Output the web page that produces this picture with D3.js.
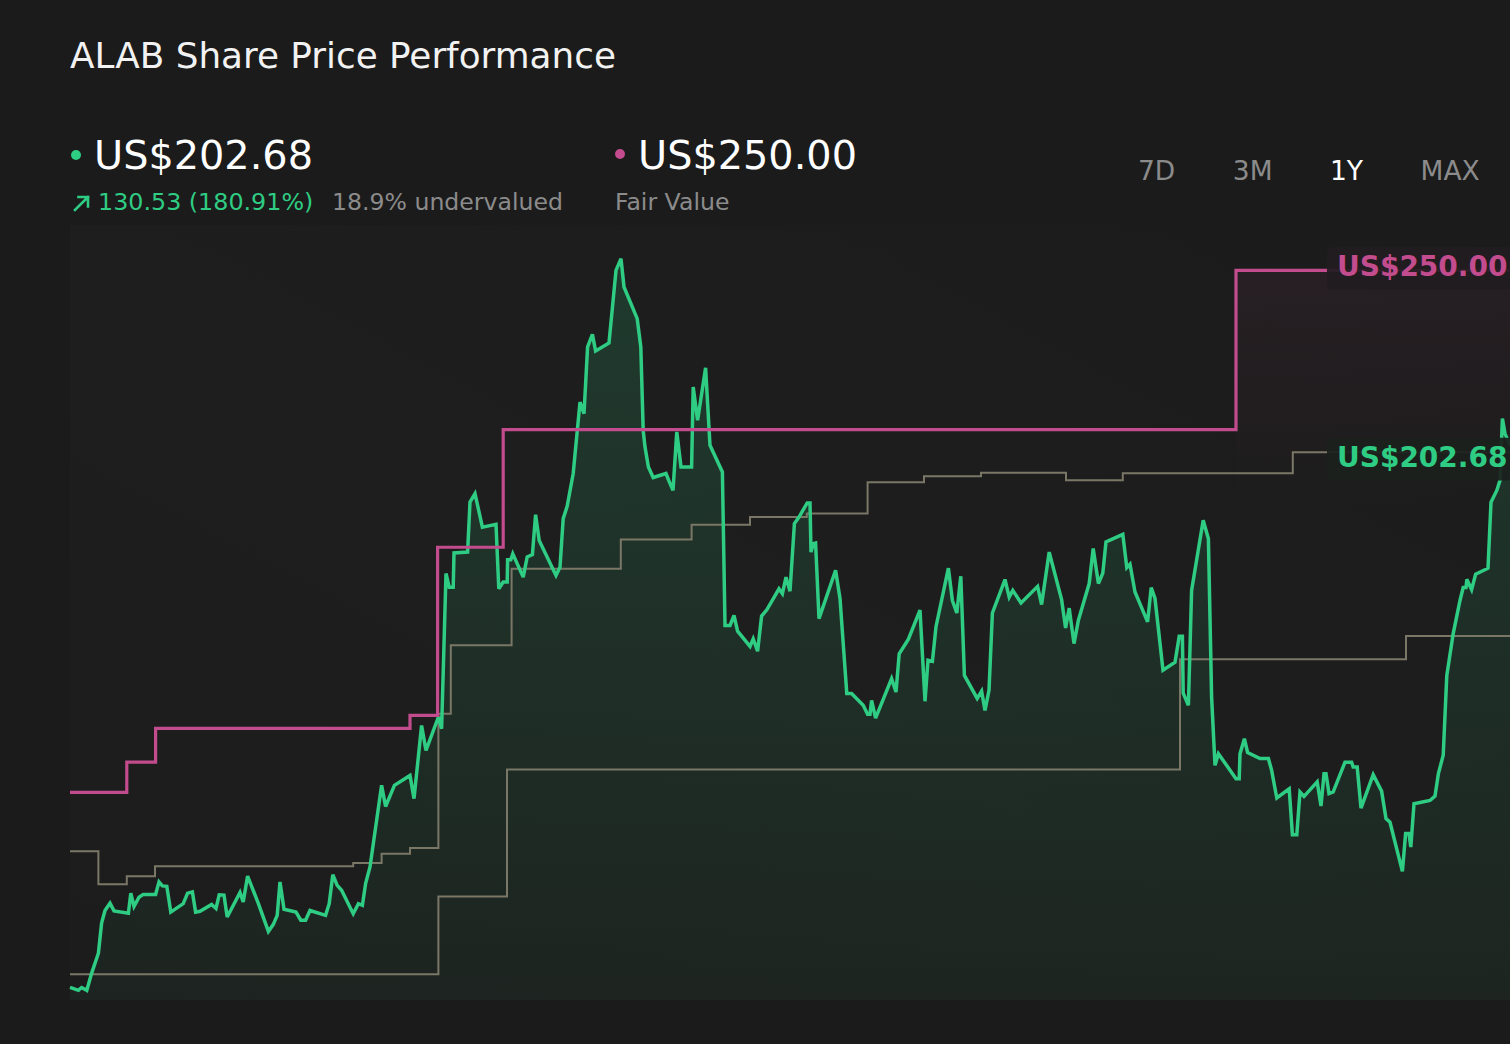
<!DOCTYPE html>
<html><head><meta charset="utf-8">
<script src="https://cdn.jsdelivr.net/npm/d3@7/dist/d3.min.js"></script>
<style>html,body{margin:0;padding:0;background:#1b1b1b;overflow:hidden}svg{display:block}</style>
</head><body>
<svg id="chart" width="1510" height="1044"></svg>
<script>
// ---- header data ----
const titleText = "ALAB Share Price Performance";
const lastPrice = "US$202.68";
const changeText = "130.53 (180.91%)";
const valuationText = "18.9% undervalued";
const fairValueText = "US$250.00";
const fairValueCaption = "Fair Value";
const ranges = ["7D", "3M", "1Y", "MAX"];
const activeRange = "1Y";
const lastPriceValue = 202.68;
const fairValueValue = 250.00;

// ---- price series (day offset within the 1Y window, price in US$) ----
const priceDays = [
  0,2.1,2.9,4.2,5.4,7.1,7.9,8.75,10,11,
  14.6,15.2,16,17.25,18.3,21.4,22.25,23.1,24.2,25.2,
  28.3,29.4,30.6,31.4,32.5,35.4,36.5,37.3,38.5,39.3,
  42.5,43.3,44.4,47.1,49.6,50.8,51.8,52.5,53.5,56.5,
  57.7,58.9,60,63.9,64.8,65.7,66.8,67.9,70.8,72.1,
  73.1,73.9,75,77.9,78.9,81.1,85,86,87.9,89,
  92.1,92.9,94,94.8,95.8,96,99.4,100,101.25,103.1,
  106.5,107.2,108.3,109.3,109.4,110.2,110.7,113.3,114.3,115.6,
  116.4,117.3,121.5,122.5,123.3,124.3,125.8,127.5,128.5,129.4,
  130.6,131.4,134.75,136.5,137.75,138.5,141.8,142.7,143.3,143.75,
  144.6,145.8,149,149.6,150.75,151.7,152.75,155.4,155.8,156.9,
  158.9,160,163.1,163.75,165,166,166.9,170,170.8,171.9,
  172.9,174.2,177.25,178.1,179,180,181.1,182.25,184.3,185,
  185.25,185.8,186.4,187.25,191.4,192.5,194.2,195.4,198.3,199.4,
  200,200.4,201.4,205.4,206.5,207.3,209.6,212.5,213.75,214.5,
  215.6,216.5,219.6,220.6,221.7,222.7,223.6,226.8,227.9,228.75,
  229.75,230.6,233.75,234.8,235.7,237.75,241.9,242.9,244.8,247.9,
  248.9,249.8,251,252.1,254.8,255.8,257.1,258.2,259,263.2,
  264.2,265,266.25,269.4,270.3,271.25,273.25,276.25,277.3,278.1,
  278.3,279.6,280.4,283.3,284.6,285.4,286.25,287.1,291.5,292.3,
  292.5,293.6,294.4,297.5,299.6,300.4,301.7,304.8,305.6,306.7,
  307.5,308.5,311.8,312.75,313.5,314,314.75,315.8,318.75,320.4,
  320.8,321.8,322.75,325.8,327.9,329,330,333.1,333.9,334.75,
  335.2,336,340,341.25,342.1,343.3,344.2,345.8,347.5,348.3,
  349,349.2,350.4,351.4,354.5,355.25,356.7,357.5,358.1,358.75,
  360
];
const priceValues = [
  72.15,71.4,72.1,71.4,75.6,80.6,88.1,91.2,93.0,91.1,
  90.5,95.5,92.2,94.5,95.2,95.2,98.3,97.3,97.2,90.8,
  92.9,95.5,95.8,90.8,91.0,92.7,91.7,95.1,95.0,89.6,
  95.7,93.3,99.75,92.9,86.0,87.7,90.0,98.3,91.5,90.8,
  88.8,88.8,91.2,90.0,92.9,100.1,97.45,96.2,90.4,92.9,
  92.5,97.9,102.0,122.25,117.0,122.25,124.7,118.95,137.1,130.9,
  139.2,136.3,174.8,171.4,171.4,179.9,180.1,192.5,194.6,186.3,
  187.0,171.0,172.7,172.7,178.2,178.2,179.7,173.9,178.9,179.5,
  189.4,183.0,174.3,176.4,188.4,191.5,199.6,217.3,214.45,231.0,
  234.1,230.0,232.0,250.0,252.9,245.85,238.0,231.0,210.3,206.2,
  201.2,198.6,199.6,198.1,195.4,209.9,201.2,201.2,221.05,212.8,
  225.8,206.6,199.97,161.9,161.9,164.4,160.5,156.7,158.6,155.5,
  164.25,165.8,171.0,169.8,173.9,170.4,187.2,188.8,192.3,192.3,
  180.1,182.2,182.35,163.6,175.6,168.6,145.0,145.0,142.1,139.9,
  139.9,143.3,138.9,148.7,145.4,154.9,158.5,165.7,143.1,153.3,
  153.0,161.6,176.1,168.1,165.0,174.1,149.5,143.8,145.6,140.85,
  145.8,165.0,173.3,168.95,170.6,167.5,171.6,167.1,180.1,168.3,
  161.3,166.2,157.4,163.2,172.3,181.0,172.3,174.9,182.6,184.5,
  176.25,177.1,170.2,162.8,171.3,168.6,150.8,152.8,159.2,159.2,
  145.1,142.1,170.6,188.0,183.4,144.2,127.2,130.1,123.9,123.9,
  130.1,133.8,130.4,128.9,128.9,126.0,119.1,121.4,110.0,110.0,
  120.6,119.5,123.1,117.1,125.15,125.15,120.2,120.6,128.0,128.0,
  126.8,126.8,116.6,124.9,120.8,114.0,113.1,100.9,110.3,110.3,
  106.95,117.7,118.5,119.6,125.15,129.7,149.5,159.9,168.1,171.3,
  171.3,173.35,170.8,174.6,176.1,192.5,195.4,197.9,213.2,209.5,
  206.6
];

// ---- fair value (step) ----
const fairDays   = [0, 14.2, 21.4, 85, 91.9, 108.3, 291.5, 360];
const fairValues = [120.5, 128.0, 136.4, 139.6, 181.3, 210.5, 250.0, 250.0];

// ---- analyst target high / low (steps) ----
const highDays   = [0, 7.1, 14.2, 21.25, 70.8, 77.9, 85, 92.1, 95.2, 110.4, 137.7, 155.4, 170, 184.2, 199.4, 213.5, 227.75, 249, 263.2, 305.7, 360];
const highValues = [105.9, 97.7, 99.7, 102.2, 103.0, 105.3, 106.7, 140.0, 157.0, 176.0, 183.2, 186.9, 188.8, 189.65, 197.4, 198.9, 199.8, 197.9, 199.65, 204.9, 204.9];
const lowDays    = [0, 92.1, 109.25, 277.5, 334, 360];
const lowValues  = [75.4, 94.7, 126.2, 153.5, 159.3, 159.3];

// ---- colours ----
const GREEN = "#2fcc83", PINK = "#c24c8d", GREY = "#7b7767", BG = "#1b1b1b";

const svg = d3.select("#chart");
const W = 1510, H = 1044;
svg.append("rect").attr("width", W).attr("height", H).attr("fill", BG);

const x = d3.scaleLinear().domain([0, 360]).range([70, 1510]);
const y = d3.scaleLinear().domain([69, 260]).range([1000, 230]);

const defs = svg.append("defs");
const gArea = defs.append("linearGradient").attr("id", "gArea")
  .attr("gradientUnits", "userSpaceOnUse").attr("x1", 0).attr("x2", 0).attr("y1", y(255)).attr("y2", y(69));
gArea.append("stop").attr("offset", 0).attr("stop-color", GREEN).attr("stop-opacity", 0.17);
gArea.append("stop").attr("offset", 1).attr("stop-color", GREEN).attr("stop-opacity", 0.04);
const gPink = defs.append("linearGradient").attr("id", "gPink")
  .attr("gradientUnits", "userSpaceOnUse").attr("x1", 0).attr("x2", 0).attr("y1", y(250)).attr("y2", y(190));
gPink.append("stop").attr("offset", 0).attr("stop-color", PINK).attr("stop-opacity", 0.07);
gPink.append("stop").attr("offset", 1).attr("stop-color", PINK).attr("stop-opacity", 0);
const gPlot = defs.append("linearGradient").attr("id", "gPlot")
  .attr("x1", 0).attr("x2", 1).attr("y1", 1).attr("y2", 0);
gPlot.append("stop").attr("offset", 0).attr("stop-color", "#1c1c1c");
gPlot.append("stop").attr("offset", 0.45).attr("stop-color", "#1d1e1d");
gPlot.append("stop").attr("offset", 1).attr("stop-color", "#1b1b1b");

// plot background
svg.append("rect").attr("x", x(0)).attr("y", 225).attr("width", x(360) - x(0)).attr("height", y(69) - 225)
  .attr("fill", "url(#gPlot)");

const price = d3.zip(priceDays, priceValues).map(([d, v]) => ({d, v}));
const fair = d3.zip(fairDays, fairValues).map(([d, v]) => ({d, v}));
const high = d3.zip(highDays, highValues).map(([d, v]) => ({d, v}));
const low = d3.zip(lowDays, lowValues).map(([d, v]) => ({d, v}));

// fair value tint area (latest fair value segment)
svg.append("path").datum(fair.slice(-2))
  .attr("d", d3.area().x(p => x(p.d)).y0(y(69)).y1(p => y(p.v)).curve(d3.curveStepAfter))
  .attr("fill", "url(#gPink)");

// price area
svg.append("path").datum(price)
  .attr("d", d3.area().x(p => x(p.d)).y0(y(69)).y1(p => y(p.v)))
  .attr("fill", "url(#gArea)");

const stepLine = d3.line().x(p => x(p.d)).y(p => y(p.v)).curve(d3.curveStepAfter);
svg.append("path").datum(low).attr("d", stepLine).attr("fill", "none").attr("stroke", GREY).attr("stroke-width", 2);
svg.append("path").datum(high).attr("d", stepLine).attr("fill", "none").attr("stroke", GREY).attr("stroke-width", 2);

// price line
svg.append("path").datum(price)
  .attr("d", d3.line().x(p => x(p.d)).y(p => y(p.v)))
  .attr("fill", "none").attr("stroke", GREEN).attr("stroke-width", 3.5)
  .attr("stroke-linejoin", "miter").attr("stroke-miterlimit", 3);

// fair value line
svg.append("path").datum(fair).attr("d", stepLine).attr("fill", "none").attr("stroke", PINK).attr("stroke-width", 3.2);

// end labels
const FONT = "'DejaVu Sans', Verdana, sans-serif";
function endLabel(value, text, color, tint) {
  const yy = y(value);
  svg.append("rect").attr("x", 1327).attr("y", yy - 23.3).attr("width", 200).attr("height", 42.6).attr("rx", 5)
    .attr("fill", tint).attr("fill-opacity", 0.93);
  svg.append("text").attr("x", 1337).attr("y", yy + 6).attr("fill", color)
    .attr("font-family", FONT).attr("font-weight", "bold").attr("font-size", 28).text(text);
}
endLabel(fairValueValue, fairValueText, PINK, "#211c1f");
endLabel(lastPriceValue, lastPrice, GREEN, "#1b201d");

// ---- header ----
svg.append("text").attr("x", 70).attr("y", 68).attr("fill", "#f2f2f2")
  .attr("font-family", FONT).attr("font-size", 35.8).text(titleText);

svg.append("circle").attr("cx", 76).attr("cy", 155).attr("r", 5).attr("fill", GREEN);
svg.append("text").attr("x", 94).attr("y", 169).attr("fill", "#ffffff")
  .attr("font-family", FONT).attr("font-size", 39.8).text(lastPrice);

// up-arrow icon
svg.append("path").attr("d", "M75,210 L88,197 M78.5,197 L88,197 L88,206.5")
  .attr("fill", "none").attr("stroke", GREEN).attr("stroke-width", 2.6).attr("stroke-linecap", "square");
svg.append("text").attr("x", 98).attr("y", 210).attr("fill", GREEN)
  .attr("font-family", FONT).attr("font-size", 23.8).text(changeText);
svg.append("text").attr("x", 332).attr("y", 210).attr("fill", "#8b8b8b")
  .attr("font-family", FONT).attr("font-size", 23.6).text(valuationText);

svg.append("circle").attr("cx", 620).attr("cy", 154).attr("r", 5).attr("fill", PINK);
svg.append("text").attr("x", 638).attr("y", 169).attr("fill", "#ffffff")
  .attr("font-family", FONT).attr("font-size", 39.8).text(fairValueText);
svg.append("text").attr("x", 615).attr("y", 210).attr("fill", "#8b8b8b")
  .attr("font-family", FONT).attr("font-size", 23.6).text(fairValueCaption);

// range selector: text laid out left to right with equal gaps
let rx = 1138;
ranges.forEach(r => {
  const t = svg.append("text").attr("x", rx).attr("y", 180)
    .attr("fill", r === activeRange ? "#ffffff" : "#8b8b8b")
    .attr("font-family", FONT).attr("font-size", 26.5).text(r);
  rx += t.node().getComputedTextLength() + 57.5;
});
</script>
</body></html>
